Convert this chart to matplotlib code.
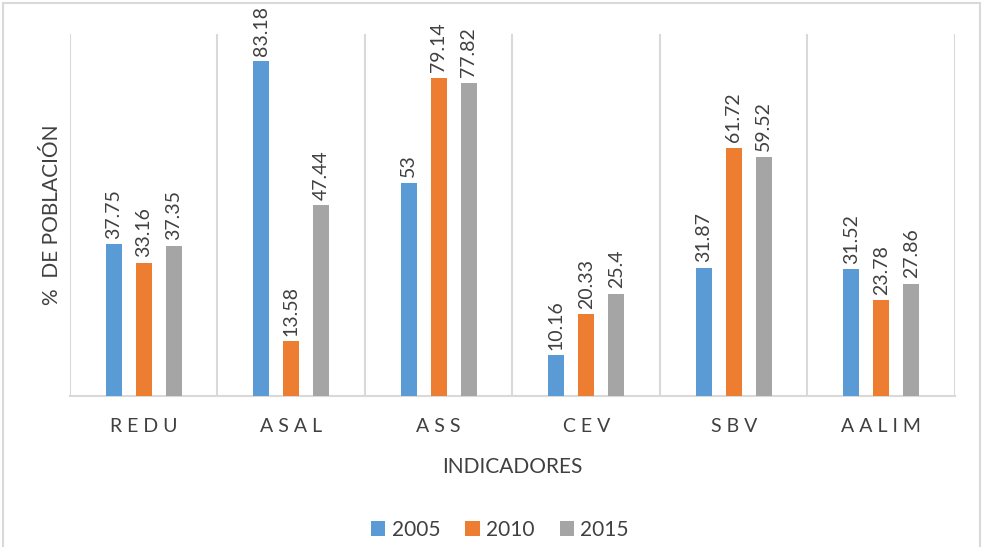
import matplotlib.pyplot as plt
import numpy as np
from matplotlib.patches import Rectangle

plt.rcParams['font.family'] = ['Lato', 'DejaVu Sans']

# datos
categorias = ["REDU", "ASAL", "ASS", "CEV", "SBV", "AALIM"]
anios = ["2005", "2010", "2015"]
v2005 = [37.75, 83.18, 53, 10.16, 31.87, 31.52]
v2010 = [33.16, 13.58, 79.14, 20.33, 61.72, 23.78]
v2015 = [37.35, 47.44, 77.82, 25.4, 59.52, 27.86]
etiquetas_2005 = ["37.75", "83.18", "53", "10.16", "31.87", "31.52"]
etiquetas_2010 = ["33.16", "13.58", "79.14", "20.33", "61.72", "23.78"]
etiquetas_2015 = ["37.35", "47.44", "77.82", "25.4", "59.52", "27.86"]

colores = ["#5B9BD5", "#ED7D31", "#A5A5A5"]
gris = "#d9d9d9"
texto = "#404040"

fig = plt.figure(figsize=(9.84, 5.47), dpi=100)
ax = fig.add_axes([0.0711, 0.276, 0.8994, 0.662])

# borde del grafico
fig.patches.append(Rectangle((3 / 984, -0.01), 977 / 984, 1 - 3 / 547 + 0.01,
                             transform=fig.transFigure, fill=False,
                             edgecolor=gris, linewidth=1.5))

x = np.arange(len(categorias))
ancho = 0.108
paso = 0.203
series = [v2005, v2010, v2015]
etiquetas = [etiquetas_2005, etiquetas_2010, etiquetas_2015]
for i, (vals, labs) in enumerate(zip(series, etiquetas)):
    pos = x + (i - 1) * paso
    ax.bar(pos, vals, ancho, color=colores[i], label=anios[i], zorder=3)
    for p, v, t in zip(pos, vals, labs):
        ax.annotate(t, (p, v), xytext=(0, 4), textcoords="offset points",
                    rotation=90, ha="center", va="bottom", fontsize=14,
                    color=texto, clip_on=False)

ax.set_xlim(-0.5, len(categorias) - 0.5)
ax.set_ylim(0, 90)

# lineas verticales entre categorias
for b in np.arange(-0.5, len(categorias), 1.0):
    ax.axvline(b, color=gris, linewidth=1.5, zorder=1)

for s in ["top", "right", "left"]:
    ax.spines[s].set_visible(False)
ax.spines["bottom"].set_color(gris)
ax.spines["bottom"].set_linewidth(1.5)
ax.set_yticks([])
ax.set_xticks(x)
ax.set_xticklabels([" ".join(c) for c in categorias], fontsize=14, color=texto)
ax.tick_params(axis="x", length=0, pad=16)

ax.set_xlabel("INDICADORES", fontsize=15, color=texto, labelpad=16)
ax.set_ylabel("%  DE POBLACIÓN", fontsize=15, color=texto, labelpad=6)

fig.legend(loc="center", bbox_to_anchor=(0.508, 0.031), ncol=3, frameon=False,
           fontsize=15, handlelength=0.7, handleheight=0.7, handletextpad=0.3,
           columnspacing=1.2, labelcolor=texto)

fig.savefig("out.png", dpi=100)
